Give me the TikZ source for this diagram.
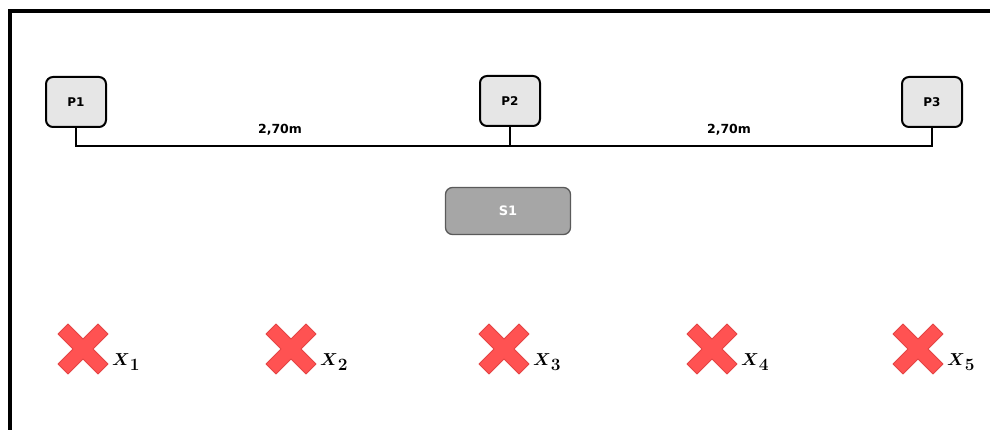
\documentclass[tikz,border=0pt]{standalone}
\usepackage[no-math]{fontspec}
\setmainfont{DejaVu Sans}
\usepackage{amsmath}
\definecolor{boxfill}{HTML}{E6E6E6}
\definecolor{sfill}{HTML}{A6A6A6}
\definecolor{sedge}{HTML}{5A5A5A}
\definecolor{xfill}{HTML}{FF5252}
\definecolor{xedge}{HTML}{E34545}
\tikzset{
  post/.style={draw=black, fill=boxfill, line width=2pt, rounded corners=7pt,
    minimum width=60pt, minimum height=50pt, inner sep=0pt,
    font=\fontsize{12}{14}\selectfont\bfseries},
  sensor/.style={draw=sedge, fill=sfill, line width=1.3pt, rounded corners=7pt,
    minimum width=125pt, minimum height=47pt, inner sep=0pt,
    font=\fontsize{13}{15}\selectfont\bfseries, text=white},
  wire/.style={line width=2pt, line cap=rect},
  dist/.style={font=\fontsize{12.5}{14}\selectfont\bfseries, inner sep=0pt},
  mark label/.style={anchor=base west, inner sep=0pt, font=\fontsize{16.5}{18}\selectfont},
  redcross/.style={fill=xfill, draw=xedge, line width=1pt, line join=round}
}
\begin{document}
\begin{tikzpicture}[x=1pt, y=-1pt]
  \useasboundingbox (0,0) rectangle (990,430);
  % room walls
  \draw[line width=4pt] (10,432) -- (10,11) -- (992,11);

  % posts and the sensor
  \node[post] (p1) at (76,102) {P1};
  \node[post] (p2) at (510,101) {P2};
  \node[post] (p3) at (932,102) {P3};
  \node[sensor] (s1) at (508,211) {S1};

  % cable joining the posts
  \coordinate (b1) at (p1.south |- 0,146);
  \coordinate (b2) at (p2.south |- 0,146);
  \coordinate (b3) at (p3.south |- 0,146);
  \draw[wire] (p1.south) -- (b1) -- (b3) -- (p3.south);
  \draw[wire] (p2.south) -- (b2);
  \node[dist] (d12) at (280,130) {2,70m};
  \node[dist] (d23) at (729,130) {2,70m};

  % measurement points
  \foreach \i/\cx in {1/83, 2/291, 3/504, 4/712, 5/918} {
    \coordinate (c\i) at (\cx,349);
    \draw[redcross, shift={(c\i)}]
      (0,-10) -- (15,-25) -- (25,-15) -- (10,0) -- (25,15) -- (15,25)
      -- (0,10) -- (-15,25) -- (-25,15) -- (-10,0) -- (-25,-15) -- (-15,-25) -- cycle;
    \node[mark label] (x\i) at ([xshift=29pt, yshift=-16pt]c\i) {$\boldsymbol{X}_{\textstyle\mathbf{\i}}$};
  }
\end{tikzpicture}
\end{document}
